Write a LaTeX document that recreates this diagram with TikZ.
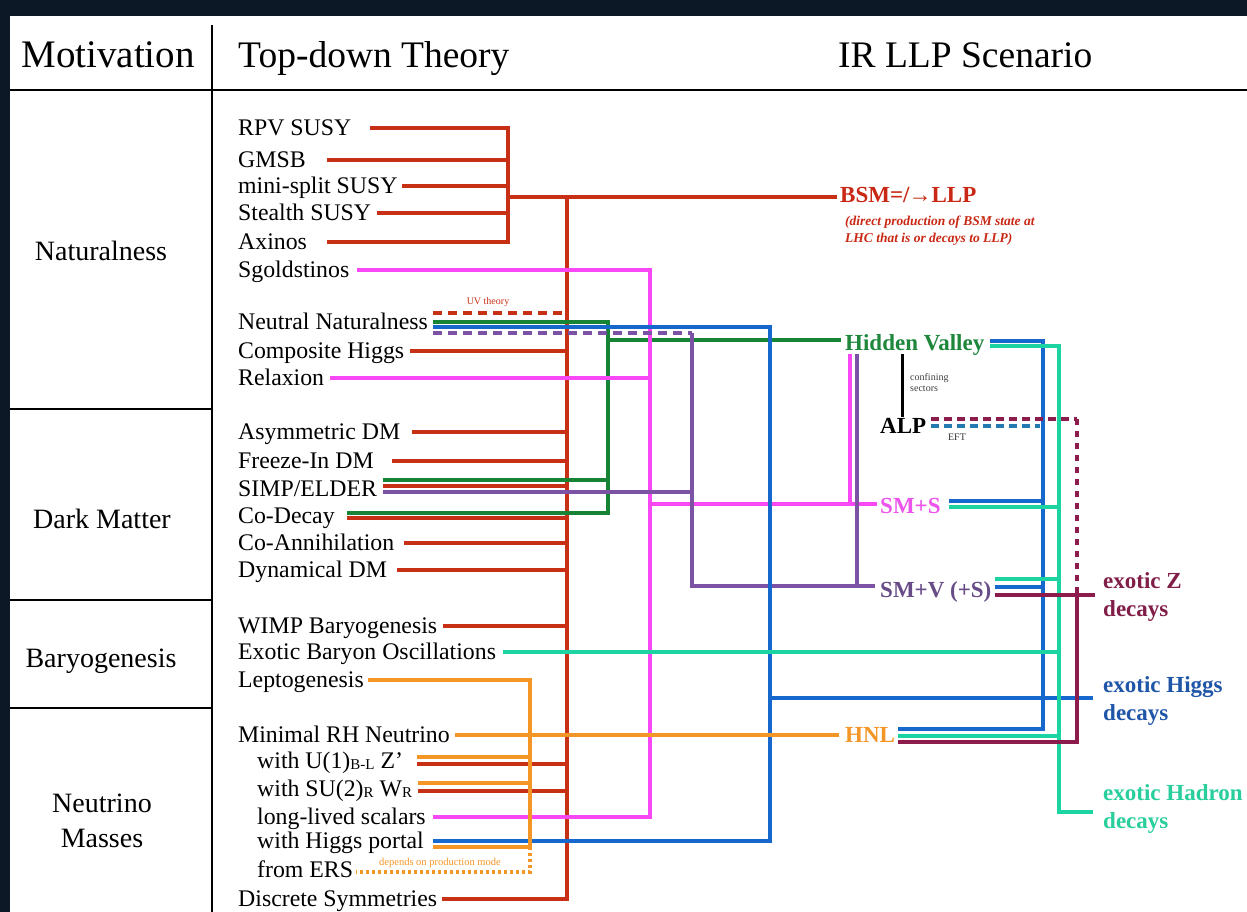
\documentclass[tikz,border=0pt]{standalone}
\usepackage{fontspec}
\setmainfont{Liberation Serif}
\usetikzlibrary{calc}
\definecolor{cRed}{RGB}{200,48,22}
\definecolor{cPink}{RGB}{248,72,246}
\definecolor{cGreen}{RGB}{22,132,52}
\definecolor{cBlue}{RGB}{22,104,204}
\definecolor{cPurple}{RGB}{124,82,164}
\definecolor{cTeal}{RGB}{28,212,162}
\definecolor{cOrange}{RGB}{244,150,38}
\definecolor{cMaroon}{RGB}{140,28,76}
\definecolor{cEFT}{RGB}{36,122,176}
\definecolor{tGreen}{RGB}{30,135,60}
\definecolor{tPink}{RGB}{236,84,236}
\definecolor{tPurple}{RGB}{104,76,136}
\definecolor{tMaroon}{RGB}{128,30,72}
\definecolor{tBlue}{RGB}{32,86,168}
\definecolor{tTeal}{RGB}{40,206,156}
\definecolor{tRed}{RGB}{200,40,20}
\definecolor{bgDark}{RGB}{12,24,38}
\newcommand\lsub[1]{{\fontsize{15}{15}\selectfont\raisebox{-1.5pt}{#1}}}
\begin{document}
\begin{tikzpicture}[x=1pt,y=-1pt,
  ln/.style={line width=3.2pt},
  rd/.style={ln,draw=cRed}, pk/.style={ln,draw=cPink}, gr/.style={ln,draw=cGreen},
  bl/.style={ln,draw=cBlue}, pu/.style={ln,draw=cPurple}, tl/.style={ln,draw=cTeal},
  og/.style={ln,draw=cOrange}, mr/.style={ln,draw=cMaroon}, ef/.style={ln,draw=cEFT},
  dsh/.style={dash pattern=on 9pt off 6pt},
  dotl/.style={dash pattern=on 3pt off 3pt},
  dotv/.style={dash pattern=on 6pt off 6pt},
  thy/.style={anchor=west,inner sep=0pt,font=\fontsize{23.8}{24}\selectfont,text height=16pt,text depth=1.5pt},
  mot/.style={inner sep=0pt,font=\fontsize{28}{35}\selectfont,align=center},
  hdr/.style={inner sep=0pt,font=\fontsize{37.5}{40}\selectfont},
  irl/.style={anchor=west,inner sep=0pt,font=\fontsize{23}{28}\selectfont\bfseries,text height=16pt,text depth=4pt},
  dec/.style={anchor=west,inner sep=0pt,font=\fontsize{23}{28}\selectfont\bfseries,align=left},
  tiny/.style={inner sep=0pt,font=\fontsize{10}{11}\selectfont},
]
\useasboundingbox (0,0) rectangle (1247,912);
\fill[bgDark] (0,0) rectangle (1247,912);
\fill[white] (10,16) rectangle (1247,912);

% frame lines
\draw[line width=2.5pt] (10,90) -- (1247,90);
\draw[line width=1.5pt] (212,25) -- (212,912);
\draw[line width=1.3pt] (10,409) -- (212,409);
\draw[line width=1.3pt] (10,600) -- (212,600);
\draw[line width=1.3pt] (10,708) -- (212,708);

% headers
\node[hdr,anchor=base,font=\fontsize{39}{40}\selectfont] (hmot) at (108,68) {Motivation};
\node[hdr,anchor=base west] (htd) at (238,68) {Top-down Theory};
\node[hdr,anchor=base west] (hir) at (838,68) {IR LLP Scenario};

% motivation labels
\node[mot,anchor=base] (mnat) at (101,260) {Naturalness};
\node[mot,anchor=base] (mdm) at (102,528) {Dark Matter};
\node[mot,anchor=base] (mbar) at (101,667) {Baryogenesis};
\node[mot] (mnu) at (102,821) {Neutrino\\Masses};

% theory labels
\node[thy] (rpv) at (238,128) {RPV SUSY};
\node[thy] (gmsb) at (238,160) {GMSB};
\node[thy] (mini) at (238,186) {mini-split SUSY};
\node[thy] (stealth) at (238,213) {Stealth SUSY};
\node[thy] (axinos) at (238,242) {Axinos};
\node[thy] (sgold) at (238,270) {Sgoldstinos};
\node[thy] (neut) at (238,322) {Neutral Naturalness};
\node[thy] (comp) at (238,351) {Composite Higgs};
\node[thy] (relax) at (238,378) {Relaxion};
\node[thy] (asym) at (238,432) {Asymmetric DM};
\node[thy] (freeze) at (238,461) {Freeze-In DM};
\node[thy] (simp) at (238,489) {SIMP/ELDER};
\node[thy] (codec) at (238,516) {Co-Decay};
\node[thy] (coann) at (238,543) {Co-Annihilation};
\node[thy] (dyn) at (238,570) {Dynamical DM};
\node[thy] (wimp) at (238,626) {WIMP Baryogenesis};
\node[thy] (ebo) at (238,652) {Exotic Baryon Oscillations};
\node[thy] (lepto) at (238,680) {Leptogenesis};
\node[thy] (minrh) at (238,735) {Minimal RH Neutrino};
\node[thy] (uone) at (257,761) {with U(1)\lsub{B-L} Z’};
\node[thy] (sutwo) at (257,789) {with SU(2)\lsub{R} W\lsub{R}};
\node[thy] (lls) at (257,817) {long-lived scalars};
\node[thy] (hport) at (257,841) {with Higgs portal};
\node[thy] (ers) at (257,870) {from ERS};
\node[thy] (disc) at (238,899) {Discrete Symmetries};

% IR scenario labels
\node[irl,text=tRed] (bsm) at (840,197) {BSM=/\kern-1pt→LLP};
\node[anchor=north west,inner sep=0pt,align=left,text=tRed,font=\fontsize{13.5}{17}\selectfont\bfseries\itshape] (bsmsub) at (845,216) {(direct production of BSM state at\\LHC that is or decays to LLP)};
\node[irl,text=tGreen] (hv) at (845,344) {Hidden Valley};
\node[irl,text=black] (alp) at (880,427) {ALP};
\node[irl,text=tPink] (sms) at (880,507) {SM+S};
\node[irl,text=tPurple] (smv) at (880,591) {SM+V (+S)};
\node[irl,text=cOrange] (hnl) at (845,736) {HNL};
\node[dec,text=tMaroon] (exz) at (1103,596.5) {exotic Z\\decays};
\node[dec,text=tBlue] (exh) at (1103,700.5) {exotic Higgs\\decays};
\node[dec,text=tTeal] (exhad) at (1103,808.5) {exotic Hadron\\decays};

% small annotations
\node[tiny,text=cRed] (uvt) at (488,302) {UV theory};
\node[tiny,anchor=west,align=left,text=black!75] (conf) at (910,383) {confining\\sectors};
\node[tiny,text=black!80] (eft) at (957,437) {EFT};
\node[inner sep=0pt,font=\fontsize{10.5}{11}\selectfont,text=cOrange] (dep) at (440,863) {depends on production mode};

% bus coordinates
\coordinate (sb) at (508,0);
\coordinate (sbJ) at (508,197);
\coordinate (tr) at (567,0);
\coordinate (trT) at (567,197);
\coordinate (gX) at (608,0);
\coordinate (kX) at (650,0);
\coordinate (pX) at (692,0);
\coordinate (bL) at (770,0);
\coordinate (oX) at (530,0);
\coordinate (bR) at (1043,0);
\coordinate (tR) at (1059,0);
\coordinate (mR) at (1077,0);
\coordinate (tBot) at (1059,812);

% ---- red ----
\draw[rd] (rpv.east -| 370,0) -- (rpv.east -| sb) -- (axinos.east -| sb) -- (axinos.east -| 327,0);
\draw[rd] (gmsb.east -| 327,0) -- (gmsb.east -| sb);
\draw[rd] (mini.east -| 402,0) -- (mini.east -| sb);
\draw[rd] (stealth.east -| 377,0) -- (stealth.east -| sb);
\draw[rd] (sbJ) -- ($(bsm.west)+(-3,0)$);
\draw[rd] (trT) -- (disc.east -| tr) -- (disc.east -| 442,0);
\draw[rd,dsh] ($(neut.east -| 433,0)+(0,-9)$) -- ($(neut.east -| tr)+(0,-9)$);
\draw[rd] (comp.east -| 410,0) -- (comp.east -| tr);
\draw[rd] (asym.east -| 412,0) -- (asym.east -| tr);
\draw[rd] (freeze.east -| 392,0) -- (freeze.east -| tr);
\draw[rd] ($(simp.east -| 383,0)+(0,-3)$) -- ($(simp.east -| tr)+(0,-3)$);
\draw[rd] ($(codec.east -| 347,0)+(0,2)$) -- ($(codec.east -| tr)+(0,2)$);
\draw[rd] (coann.east -| 404,0) -- (coann.east -| tr);
\draw[rd] (dyn.east -| 397,0) -- (dyn.east -| tr);
\draw[rd] (wimp.east -| 443,0) -- (wimp.east -| tr);
\draw[rd] ($(uone.east -| 417,0)+(0,3)$) -- ($(uone.east -| tr)+(0,3)$);
\draw[rd] ($(sutwo.east -| 418,0)+(0,2)$) -- ($(sutwo.east -| tr)+(0,2)$);

% ---- green ----
\draw[gr] (neut.east -| 433,0) -- (neut.east -| gX) -- ($(codec.east -| gX)+(0,-3)$) -- ($(codec.east -| 347,0)+(0,-3)$);
\draw[gr] ($(simp.east -| 383,0)+(0,-9)$) -- ($(simp.east -| gX)+(0,-9)$);
\draw[gr] ($(hv.west -| gX)+(0,-4)$) -- ($(hv.west)+(-4,-4)$);

% ---- pink ----
\draw[pk] (sgold.east -| 357,0) -- (sgold.east -| kX) -- (lls.east -| kX) -- (lls.east -| 433,0);
\draw[pk] (relax.east -| 330,0) -- (relax.east -| kX);
\draw[pk] ($(sms.west -| kX)+(0,-3)$) -- ($(sms.west)+(-3,-3)$);
\draw[pk] (hv.south -| 850,0) -- ($(sms.west -| 850,0)+(0,-3)$);

% ---- purple ----
\draw[pu,dsh] ($(neut.east -| 433,0)+(0,11)$) -- ($(neut.east -| pX)+(0,11)$);
\draw[pu] ($(neut.east -| pX)+(0,11)$) -- ($(smv.west -| pX)+(0,-5)$) -- ($(smv.west)+(-5,-5)$);
\draw[pu] ($(simp.east -| 383,0)+(0,3)$) -- ($(simp.east -| pX)+(0,3)$);
\draw[pu] (hv.south -| 857,0) -- ($(smv.west -| 857,0)+(0,-5)$);

% ---- blue ----
\draw[bl] ($(neut.east -| 433,0)+(0,5)$) -- ($(neut.east -| bL)+(0,5)$) -- (hport.east -| bL) -- (hport.east -| 433,0);
\draw[bl] ($(exh.west -| bL)+(0,-2.5)$) -- ($(exh.west)+(-10,-2.5)$);
\draw[bl] ($(hv.east)+(5,-3)$) -- ($(hv.east -| bR)+(0,-3)$) -- ($(hnl.east -| bR)+(0,-7)$) -- ($(hnl.east)+(3,-7)$);
\draw[bl] ($(sms.east)+(8,-6)$) -- ($(sms.east -| bR)+(0,-6)$);
\draw[bl] ($(smv.east)+(3,-4)$) -- ($(smv.east -| bR)+(0,-4)$);
\draw[ef,dash pattern=on 8pt off 5pt] ($(alp.east)+(5,-1)$) -- ($(alp.east -| bR)+(-3,-1)$);

% ---- teal ----
\draw[tl] ($(hv.east)+(5,2)$) -- ($(hv.east -| tR)+(0,2)$) -- (tBot) -- ($(exhad.west |- tBot)+(-10,0)$);
\draw[tl] (ebo.east -| 503,0) -- (ebo.east -| tR);
\draw[tl] ($(sms.east)+(8,0)$) -- (sms.east -| tR);
\draw[tl] ($(smv.east)+(3,-12)$) -- ($(smv.east -| tR)+(0,-12)$);
\draw[tl] ($(hnl.east)+(3,0)$) -- (hnl.east -| tR);

% ---- orange ----
\draw[og] (lepto.east -| 368,0) -- (lepto.east -| oX) -- ($(hport.east -| oX)+(0,6)$) -- ($(hport.east -| 433,0)+(0,6)$);
\draw[og,dotl] ($(hport.east -| oX)+(0,6)$) -- ($(ers.east -| oX)+(0,2)$) -- ($(ers.east)+(3,2)$);
\draw[og] ($(uone.east -| 417,0)+(0,-4)$) -- ($(uone.east -| oX)+(0,-4)$);
\draw[og] ($(sutwo.east -| 418,0)+(0,-6)$) -- ($(sutwo.east -| oX)+(0,-6)$);
\draw[og] (minrh.east -| 455,0) -- ($(minrh.east -| hnl.west)+(-6,0)$);

% ---- maroon ----
\draw[mr,dash pattern=on 8pt off 5pt] ($(alp.east)+(5,-8)$) -- ($(alp.east -| mR)+(0,-8)$);
\draw[mr,dotv] ($(alp.east -| mR)+(0,-8)$) -- ($(smv.east -| mR)+(0,4)$);
\draw[mr] ($(smv.east)+(3,4)$) -- ($(smv.east -| exz.west)+(-8,4)$);
\draw[mr] ($(smv.east -| mR)+(0,4)$) -- ($(hnl.east -| mR)+(0,6)$) -- ($(hnl.east)+(3,6)$);

% ---- black ----
\draw[line width=3pt] (hv.south -| 902,0) -- (alp.north -| 902,0);
\end{tikzpicture}
\end{document}
